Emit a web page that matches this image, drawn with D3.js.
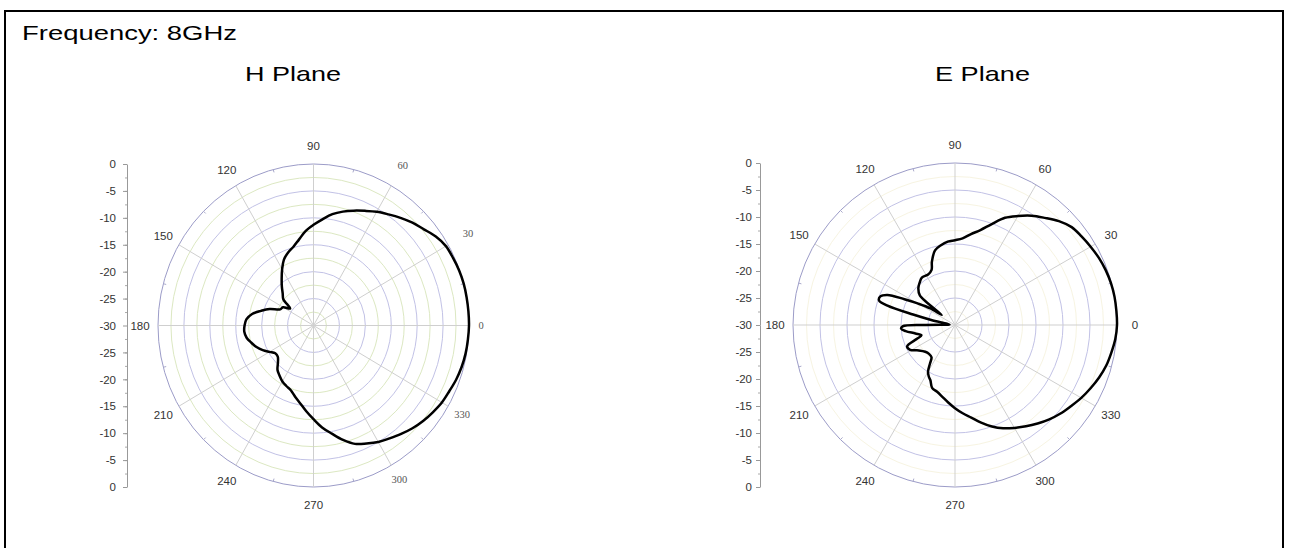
<!DOCTYPE html>
<html><head><meta charset="utf-8">
<script src="https://cdn.jsdelivr.net/npm/d3@7"></script>
<style>body{margin:0;background:#fff}svg{display:block}</style>
</head><body>
<svg id="c" width="1290" height="548"></svg>
<script>
const titleText = "Frequency: 8GHz";
const planeTitles = ["H Plane", "E Plane"];
const angleTicks = [0,30,60,90,120,150,180,210,240,270,300,330];
const dbTicksTop = [0,-5,-10,-15,-20,-25,-30];
const dbTicksBottom = [-25,-20,-15,-10,-5,0];

// H plane (degrees, dB)
const hAngles = [0,5,10,15,20,25,30,35,40,45,50,55,60,65,70,75,80,85,90,95,100,105,110,115,120,125,130,135,140,145,150,155,160,165,170,175,180,185,190,195,200,205,210,215,220,225,230,235,240,245,250,255,260,265,270,275,280,285,290,295,300,305,310,315,320,325,330,335,340,345,350,355];
const hValues = [0,0,0,0,-0.1,-0.3,-0.5,-1.2,-2.2,-3.0,-3.9,-4.8,-5.6,-6.5,-7.3,-8.1,-9.0,-10.2,-11.3,-12.4,-13.8,-14.9,-15.6,-16.5,-17.9,-19.3,-20.5,-21.6,-22.4,-24.5,-23.2,-22.9,-21.0,-19.5,-17.9,-17.0,-16.7,-16.6,-16.9,-17.6,-18.3,-19.2,-20.2,-21.0,-21.0,-20.3,-19.2,-18.6,-18.0,-17.6,-17.2,-16.3,-15.3,-14.0,-12.6,-11.0,-9.6,-8.0,-6.6,-5.8,-5.0,-4.4,-3.7,-3.0,-2.4,-1.9,-1.4,-1.1,-0.7,-0.4,-0.2,-0.1];

// E plane (degrees, dB)
const eAngles = [0,5,10,15,20,25,30,35,40,45,50,55,60,65,70,75,80,85,90,95,100,105,110,113,118,125,130,135,140,143,146,150,153,156,159,162,164,166,168,171,176,178,180,181.5,184,187,192,197,200,204,209,215,222,228,234,237,240,243,246,250,255,260,265,270,275,280,285,290,295,300,305,310,315,320,325,330,335,340,345,350,355];
const eValues = [0,0,0,-0.1,-0.3,-0.6,-1.0,-1.4,-1.8,-2.8,-4.1,-5.3,-6.7,-8.1,-10.1,-11.8,-12.9,-13.9,-14.3,-14.5,-15.0,-15.7,-17.5,-18.9,-19.4,-19.3,-19.8,-20.4,-21.5,-26.9,-24.5,-22.0,-19.5,-16.3,-15.2,-15.2,-17.0,-22.0,-25.5,-28.5,-29.0,-28.5,-24.0,-20.3,-20.0,-20.8,-22.5,-23.5,-22.5,-20.3,-20.5,-21.8,-22.6,-22.8,-22.6,-21.5,-20.0,-19.3,-18.8,-17.6,-17.2,-16.5,-15.6,-14.6,-13.6,-12.6,-11.3,-10.0,-8.9,-8.0,-7.1,-6.2,-5.3,-4.5,-3.8,-3.0,-2.3,-1.6,-1.0,-0.6,-0.2];

const svg = d3.select("#c");
svg.append("rect").attr("width",1290).attr("height",548).attr("fill","#fff");
svg.append("rect").attr("x",5).attr("y",11).attr("width",1278).attr("height",600)
  .attr("fill","none").attr("stroke","#000").attr("stroke-width",2);

const sans = "Liberation Sans, Arial, sans-serif";
svg.append("text").attr("x",22).attr("y",40).attr("font-family",sans)
  .attr("font-size",21).attr("fill","#000")
  .attr("textLength",215).attr("lengthAdjust","spacingAndGlyphs").text(titleText);

const charts = [
  {cx:313.5, cy:325.5, rx:155.5, ry:161.5, axisX:127, pad:7, minor:true, serifRight:true, angles:hAngles, values:hValues, titleX:245, titleW:96, titleIdx:0},
  {cx:955, cy:325, rx:162, ry:162, axisX:760, pad:4, minor:false, serifRight:false, angles:eAngles, values:eValues, titleX:935, titleW:95, titleIdx:1}
];

const rScale = d3.scaleLinear().domain([-30,0]).range([0,1]);
const rad = d => d*Math.PI/180;

charts.forEach(c => {
  const g = svg.append("g");
  g.append("text").attr("x",c.titleX).attr("y",81)
    .attr("font-family",sans).attr("font-size",21).attr("fill","#000")
    .attr("textLength",c.titleW).attr("lengthAdjust","spacingAndGlyphs")
    .text(planeTitles[c.titleIdx]);

  // rings
  const ringVals = d3.range(-27.5, 0.01, 2.5);
  ringVals.forEach(v => {
    const major = Math.abs(v % 5) < 1e-6;
    const f = rScale(v);
    g.append("ellipse").attr("cx",c.cx).attr("cy",c.cy).attr("rx",c.rx*f).attr("ry",c.ry*f)
      .attr("fill","none")
      .attr("stroke", v===0 ? "#9c9cc8" : (major ? "#c2c2e6" : (c.minor ? "#dce8c2" : "#f7f4e2")))
      .attr("stroke-width", 1);
  });
  // spokes
  angleTicks.forEach(a => {
    g.append("line").attr("x1",c.cx).attr("y1",c.cy)
      .attr("x2",c.cx + c.rx*Math.cos(rad(a))).attr("y2",c.cy - c.ry*Math.sin(rad(a)))
      .attr("stroke","#cfcfcf").attr("stroke-width",1);
  });
  // minor outer ticks
  angleTicks.forEach(a => {
    const b = a + 15;
    const co = Math.cos(rad(b)), si = Math.sin(rad(b));
    g.append("line").attr("x1",c.cx + c.rx*co).attr("y1",c.cy - c.ry*si)
      .attr("x2",c.cx + (c.rx-3)*co).attr("y2",c.cy - (c.ry-3)*si)
      .attr("stroke","#aaaacc").attr("stroke-width",1);
  });
  // angle labels
  angleTicks.forEach(a => {
    const serif = c.serifRight && (a < 90 || a > 270);
    const d = serif ? (a === 0 ? 12 : (a < 90 ? 23 : 16)) : 18;
    g.append("text")
      .attr("x", c.cx + (c.rx+d)*Math.cos(rad(a)))
      .attr("y", c.cy - (c.ry+d)*Math.sin(rad(a)))
      .attr("text-anchor","middle").attr("dominant-baseline","central")
      .attr("font-family", serif ? "Liberation Serif, Times New Roman, serif" : sans)
      .attr("font-size", serif ? 10.5 : 11.5).attr("fill", serif ? "#555" : "#333")
      .text(a);
  });

  // dB axis
  const yTop = d3.scaleLinear().domain([0,-30]).range([c.cy - c.ry, c.cy]);
  const yBot = d3.scaleLinear().domain([-30,0]).range([c.cy, c.cy + c.ry]);
  const ax = g.append("g").attr("transform",`translate(${c.axisX},0)`);
  const styleAxis = sel => {
    sel.select(".domain").attr("stroke","#999");
    sel.selectAll(".tick line").attr("stroke","#999");
    sel.selectAll(".tick text").attr("fill","#333").attr("font-size",11.5)
      .attr("font-family",sans);
  };
  ax.append("g").call(d3.axisLeft(yTop).tickValues(d3.range(-2.5,-30,-2.5)).tickSize(2).tickFormat(""))
    .call(s => {s.select(".domain").remove(); s.selectAll(".tick line").attr("stroke","#aaa");});
  ax.append("g").call(d3.axisLeft(yBot).tickValues(d3.range(-27.5,0,2.5)).tickSize(2).tickFormat(""))
    .call(s => {s.select(".domain").remove(); s.selectAll(".tick line").attr("stroke","#aaa");});
  ax.append("g").call(d3.axisLeft(yTop).tickValues(dbTicksTop).tickSize(4).tickPadding(c.pad).tickSizeOuter(0).tickFormat(d=>String(d))).call(styleAxis);
  ax.append("g").call(d3.axisLeft(yBot).tickValues(dbTicksBottom).tickSize(4).tickPadding(c.pad).tickSizeOuter(0).tickFormat(d=>String(d))).call(styleAxis);

  // pattern
  const pts = c.angles.map((a,i) => [a, c.values[i]]);
  const line = d3.line()
    .x(p => c.cx + c.rx*rScale(p[1])*Math.cos(rad(p[0])))
    .y(p => c.cy - c.ry*rScale(p[1])*Math.sin(rad(p[0])))
    .curve(d3.curveCatmullRomClosed.alpha(0.5));
  g.append("path").attr("d", line(pts)).attr("fill","none").attr("stroke","#000")
    .attr("stroke-width",2.5).attr("stroke-linejoin","round");
});
</script>
</body></html>
